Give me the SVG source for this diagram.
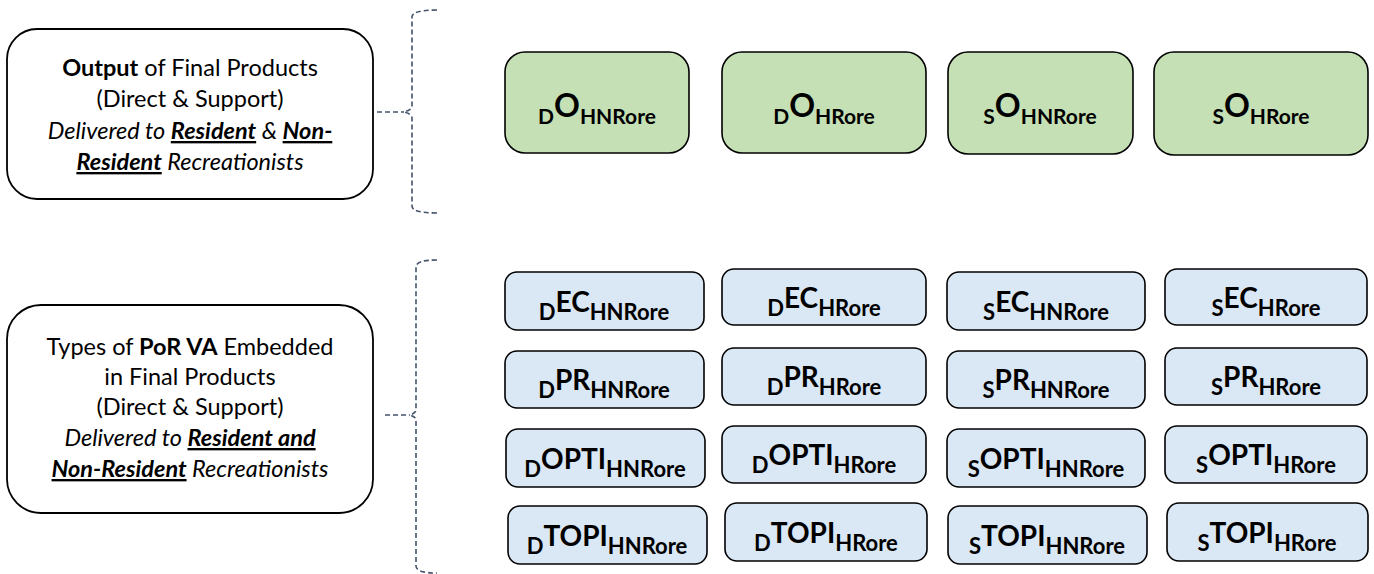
<svg xmlns="http://www.w3.org/2000/svg" width="1374" height="574" viewBox="0 0 1374 574">
<style>
  .cat{fill:#fff;stroke:#000;stroke-width:1.8}
  .grn{fill:#C5E0B4;stroke:#000;stroke-width:1.6}
  .blu{fill:#DAE7F4;stroke:#000;stroke-width:1.6}
  .brace{fill:none;stroke:#44546A;stroke-width:1.6;stroke-dasharray:5 3}
  .t{font-family:Lato,"Open Sans",sans-serif;font-size:23.5px;fill:#000;text-anchor:middle}
  .lbl{font-family:Lato,"Open Sans",sans-serif;font-weight:bold;fill:#000;text-anchor:middle}
  .gs{font-size:21px}
  .gm{font-size:32px}
  .bs{font-size:22px}
  .bm{font-size:28px}
  .b{font-weight:bold}
  .i{font-style:italic}
  .u{text-decoration:underline}
</style>
<g id="output-category">
  <rect class="cat" x="7" y="29" width="366" height="170" rx="30"/>
  <text class="t" x="190" y="76"><tspan class="b">Output</tspan> of Final Products</text>
  <text class="t" x="190" y="107">(Direct &amp; Support)</text>
  <text class="t i" x="190" y="139">Delivered to <tspan class="b u">Resident</tspan> &amp; <tspan class="b u">Non-</tspan></text>
  <text class="t i" x="190" y="170"><tspan class="b u">Resident</tspan> Recreationists</text>
</g>
<g id="por-va-category">
  <rect class="cat" x="7" y="305" width="366" height="208" rx="34"/>
  <text class="t" x="190" y="355">Types of <tspan class="b">PoR VA</tspan> Embedded</text>
  <text class="t" x="190" y="385">in Final Products</text>
  <text class="t" x="190" y="415">(Direct &amp; Support)</text>
  <text class="t i" x="190" y="446">Delivered to <tspan class="b u">Resident and</tspan></text>
  <text class="t i" x="190" y="477"><tspan class="b u">Non-Resident</tspan> Recreationists</text>
</g>
<g id="connectors">
  <path class="brace" d="M437,10 Q412,10 412,17 L412,106 Q412,110 404,112 Q412,114 412,118 L412,206 Q412,213 437,213"/>
  <path class="brace" d="M377,112 L404,112"/>
  <path class="brace" d="M437,260 Q416,260 416,267 L416,410 Q416,413 410,415 Q416,417 416,420 L416,566 Q416,573 437,573"/>
  <path class="brace" d="M385,415 L410,415"/>
</g>
<g id="dO-HNRore"><rect class="grn" x="505" y="52" width="184" height="101" rx="20"/>
  <text class="lbl" x="597" y="117"><tspan class="gs" dy="7">D</tspan><tspan class="gm" dy="-7">O</tspan><tspan class="gs" dy="7">HNRore</tspan></text></g>
<g id="dO-HRore"><rect class="grn" x="722" y="52" width="204" height="101" rx="20"/>
  <text class="lbl" x="824" y="117"><tspan class="gs" dy="7">D</tspan><tspan class="gm" dy="-7">O</tspan><tspan class="gs" dy="7">HRore</tspan></text></g>
<g id="sO-HNRore"><rect class="grn" x="948" y="52" width="185" height="102" rx="20"/>
  <text class="lbl" x="1040" y="117"><tspan class="gs" dy="7">S</tspan><tspan class="gm" dy="-7">O</tspan><tspan class="gs" dy="7">HNRore</tspan></text></g>
<g id="sO-HRore"><rect class="grn" x="1154" y="52" width="214" height="103" rx="20"/>
  <text class="lbl" x="1261" y="117"><tspan class="gs" dy="7">S</tspan><tspan class="gm" dy="-7">O</tspan><tspan class="gs" dy="7">HRore</tspan></text></g>

<g id="dEC-HNRore"><rect class="blu" x="505" y="272" width="199" height="58" rx="12"/>
  <text class="lbl" x="604" y="312"><tspan class="bs" dy="8">D</tspan><tspan class="bm" dy="-8">EC</tspan><tspan class="bs" dy="8">HNRore</tspan></text></g>
<g id="dEC-HRore"><rect class="blu" x="722" y="269" width="204" height="56" rx="12"/>
  <text class="lbl" x="824" y="308"><tspan class="bs" dy="8">D</tspan><tspan class="bm" dy="-8">EC</tspan><tspan class="bs" dy="8">HRore</tspan></text></g>
<g id="sEC-HNRore"><rect class="blu" x="947" y="272" width="198" height="58" rx="12"/>
  <text class="lbl" x="1046" y="312"><tspan class="bs" dy="8">S</tspan><tspan class="bm" dy="-8">EC</tspan><tspan class="bs" dy="8">HNRore</tspan></text></g>
<g id="sEC-HRore"><rect class="blu" x="1165" y="269" width="202" height="56" rx="12"/>
  <text class="lbl" x="1266" y="308"><tspan class="bs" dy="8">S</tspan><tspan class="bm" dy="-8">EC</tspan><tspan class="bs" dy="8">HRore</tspan></text></g>

<g id="dPR-HNRore"><rect class="blu" x="505" y="351" width="199" height="57" rx="12"/>
  <text class="lbl" x="604" y="390"><tspan class="bs" dy="8">D</tspan><tspan class="bm" dy="-8">PR</tspan><tspan class="bs" dy="8">HNRore</tspan></text></g>
<g id="dPR-HRore"><rect class="blu" x="722" y="348" width="204" height="57" rx="12"/>
  <text class="lbl" x="824" y="387"><tspan class="bs" dy="8">D</tspan><tspan class="bm" dy="-8">PR</tspan><tspan class="bs" dy="8">HRore</tspan></text></g>
<g id="sPR-HNRore"><rect class="blu" x="947" y="351" width="198" height="57" rx="12"/>
  <text class="lbl" x="1046" y="390"><tspan class="bs" dy="8">S</tspan><tspan class="bm" dy="-8">PR</tspan><tspan class="bs" dy="8">HNRore</tspan></text></g>
<g id="sPR-HRore"><rect class="blu" x="1165" y="348" width="202" height="57" rx="12"/>
  <text class="lbl" x="1266" y="387"><tspan class="bs" dy="8">S</tspan><tspan class="bm" dy="-8">PR</tspan><tspan class="bs" dy="8">HRore</tspan></text></g>

<g id="dOPTI-HNRore"><rect class="blu" x="506" y="429" width="199" height="58" rx="12"/>
  <text class="lbl" x="605" y="469"><tspan class="bs" dy="8">D</tspan><tspan class="bm" dy="-8">OPTI</tspan><tspan class="bs" dy="8">HNRore</tspan></text></g>
<g id="dOPTI-HRore"><rect class="blu" x="722" y="426" width="204" height="57" rx="12"/>
  <text class="lbl" x="824" y="465"><tspan class="bs" dy="8">D</tspan><tspan class="bm" dy="-8">OPTI</tspan><tspan class="bs" dy="8">HRore</tspan></text></g>
<g id="sOPTI-HNRore"><rect class="blu" x="947" y="429" width="198" height="58" rx="12"/>
  <text class="lbl" x="1046" y="469"><tspan class="bs" dy="8">S</tspan><tspan class="bm" dy="-8">OPTI</tspan><tspan class="bs" dy="8">HNRore</tspan></text></g>
<g id="sOPTI-HRore"><rect class="blu" x="1165" y="426" width="202" height="57" rx="12"/>
  <text class="lbl" x="1266" y="465"><tspan class="bs" dy="8">S</tspan><tspan class="bm" dy="-8">OPTI</tspan><tspan class="bs" dy="8">HRore</tspan></text></g>

<g id="dTOPI-HNRore"><rect class="blu" x="508" y="506" width="199" height="58" rx="12"/>
  <text class="lbl" x="607" y="546"><tspan class="bs" dy="8">D</tspan><tspan class="bm" dy="-8">TOPI</tspan><tspan class="bs" dy="8">HNRore</tspan></text></g>
<g id="dTOPI-HRore"><rect class="blu" x="725" y="503" width="202" height="58" rx="12"/>
  <text class="lbl" x="826" y="543"><tspan class="bs" dy="8">D</tspan><tspan class="bm" dy="-8">TOPI</tspan><tspan class="bs" dy="8">HRore</tspan></text></g>
<g id="sTOPI-HNRore"><rect class="blu" x="948" y="506" width="199" height="58" rx="12"/>
  <text class="lbl" x="1047" y="546"><tspan class="bs" dy="8">S</tspan><tspan class="bm" dy="-8">TOPI</tspan><tspan class="bs" dy="8">HNRore</tspan></text></g>
<g id="sTOPI-HRore"><rect class="blu" x="1167" y="503" width="201" height="58" rx="12"/>
  <text class="lbl" x="1267" y="543"><tspan class="bs" dy="8">S</tspan><tspan class="bm" dy="-8">TOPI</tspan><tspan class="bs" dy="8">HRore</tspan></text></g>
</svg>
